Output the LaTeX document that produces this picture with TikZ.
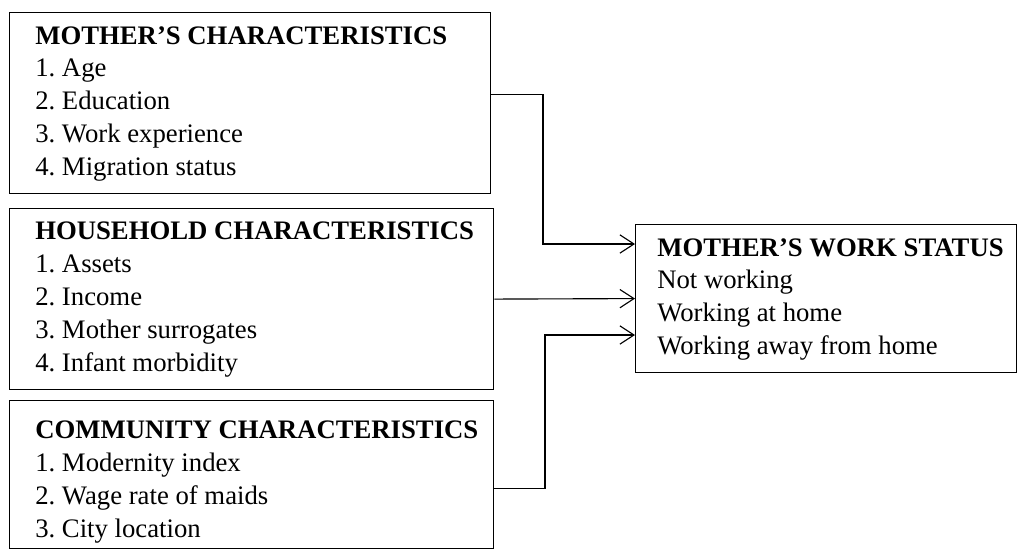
\documentclass[tikz,border=0pt]{standalone}
\usepackage{fontspec}
\setmainfont{Liberation Serif}
\usetikzlibrary{arrows.meta}

\tikzset{
  ramme/.style={draw, line width=0.8pt, anchor=north west, inner sep=0pt},
  tekst/.style={anchor=north west, align=left, inner sep=0pt,
    font=\fontsize{19}{23.4}\selectfont},
  pil/.style={line width=0.8pt,
    -{Straight Barb[length=10pt,width=13pt,line width=0.8pt]}},
}

\begin{document}
\frenchspacing
\begin{tikzpicture}[x=0.025cm,y=-0.025cm]
  \useasboundingbox (0,0) rectangle (1018,554);

  % Boks: mor
  \node[ramme, minimum width=12.025cm, minimum height=4.525cm] (mor) at (9,12) {};
  \node[tekst] (mortekst) at ([shift={(26,14)}]mor.north west)
    {\textbf{MOTHER’S CHARACTERISTICS}\\
      1. Age\\ 2. Education\\ 3. Work experience\\ 4. Migration status};

  % Boks: husholdning
  \node[ramme, minimum width=12.1cm, minimum height=4.525cm] (hus) at (9,208) {};
  \node[tekst] (hustekst) at ([shift={(26,14)}]hus.north west)
    {\textbf{HOUSEHOLD CHARACTERISTICS}\\
      1. Assets\\ 2. Income\\ 3. Mother surrogates\\ 4. Infant morbidity};

  % Boks: samfunn
  \node[ramme, minimum width=12.1cm, minimum height=3.7cm] (sam) at (9,400) {};
  \node[tekst] (samtekst) at ([shift={(26,21)}]sam.north west)
    {\textbf{COMMUNITY CHARACTERISTICS}\\
      1. Modernity index\\ 2. Wage rate of maids\\ 3. City location};

  % Boks: arbeid
  \node[ramme, minimum width=9.525cm, minimum height=3.7cm] (arb) at (635,224) {};
  \node[tekst] (arbtekst) at ([shift={(22,14)}]arb.north west)
    {\textbf{MOTHER’S WORK STATUS}\\
      Not working\\ Working at home\\ Working away from home};

  % Piler
  \coordinate (k1) at (543,244);
  \coordinate (k3) at (545,335);
  \draw[pil] ([yshift=0.225cm]mor.east) -| (k1) -- (arb.west |- k1);
  \draw[pil] (hus.east) -- (arb.west);
  \draw[pil] ([yshift=-0.35cm]sam.east) -| (k3) -- (arb.west |- k3);
\end{tikzpicture}
\end{document}
